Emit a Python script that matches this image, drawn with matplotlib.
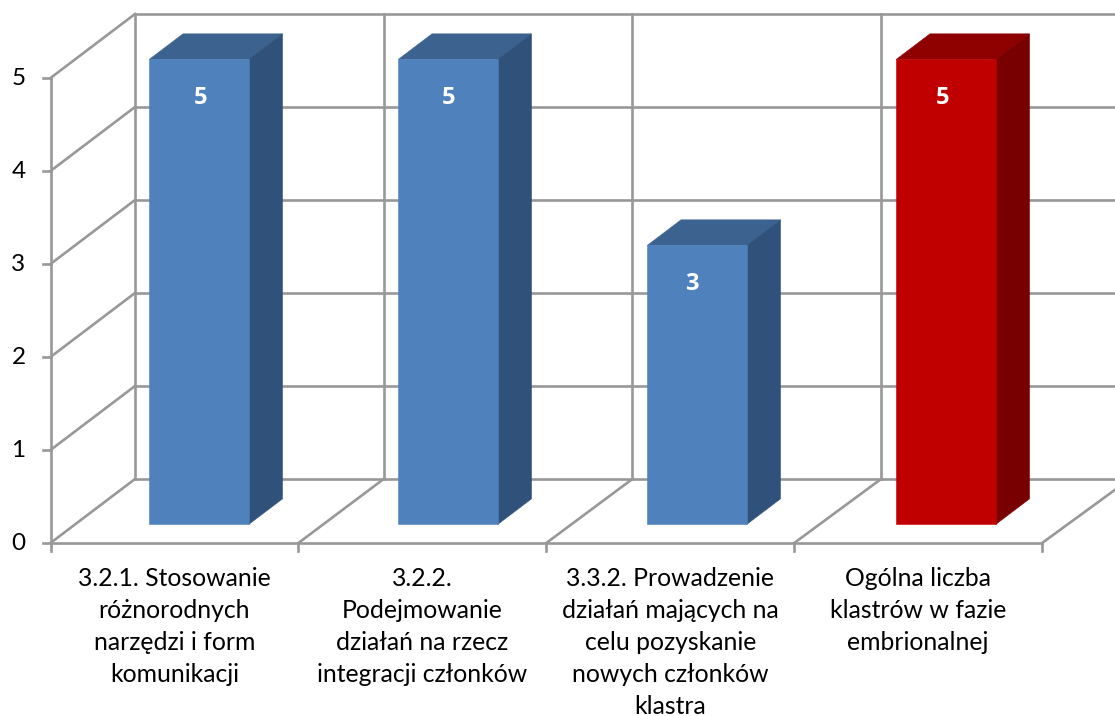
import matplotlib
matplotlib.use('Agg')
import matplotlib.pyplot as plt

# Chart data
categories = ['3.2.1. Stosowanie\nróżnorodnych\nnarzędzi i form\nkomunikacji',
              '3.2.2.\nPodejmowanie\ndziałań na rzecz\nintegracji członków',
              '3.3.2. Prowadzenie\ndziałań mających na\ncelu pozyskanie\nnowych członków\nklastra',
              'Ogólna liczba\nklastrów w fazie\nembrionalnej']
values = [5, 5, 3, 5]
y_ticks = [0, 1, 2, 3, 4, 5]

# Face colours: front, top, side
blue_faces = ('#4F81BD', '#3C6390', '#30527A')
red_faces = ('#C00000', '#8F0000', '#790000')
bar_faces = [blue_faces, blue_faces, blue_faces, red_faces]

GRID = '#989898'
LW = 1.9
FONT = 'Lato'
W, H = 1115, 716

# Scale of the front plane in pixels
X0, CAT_W = 50.5, 247.9
Y0, UNIT = 543.0, 93.0
DEPTH_X = 84.5 / CAT_W   # how far the back wall sits from the front, in data units
DEPTH_Y = 64.0 / UNIT
BACK_STEP = 248.7 / CAT_W  # the back wall is spaced a touch wider than the front

BAR_W = 99.5 / CAT_W
BAR_STEP = 249.0 / CAT_W
BAR_FRONT = 0.29         # bar position along the depth, 0 = front and 1 = back
BAR_BACK = 0.69
LABEL_NUDGE = [2, 1, -5, -3]  # excel does not centre the labels exactly, pixels


def pt(x, y, d=0.0):
    # Oblique projection of a point at depth d
    return x + d * DEPTH_X, y + d * DEPTH_Y


def back(x, y):
    return pt(x * BACK_STEP, y, 1)


def face(points, color, z):
    xs, ys = zip(*points)
    ax.fill(xs, ys, color=color, lw=0.4, zorder=z)


def wire(p, q, z=1):
    ax.plot([p[0], q[0]], [p[1], q[1]], color=GRID, lw=LW, zorder=z,
            solid_capstyle='projecting', clip_on=True)


fig = plt.figure(figsize=(W / 100, H / 100), dpi=100)
ax = fig.add_axes([0, 0, 1, 1])
ax.set_xlim(-X0 / CAT_W, (W - X0) / CAT_W)
ax.set_ylim((Y0 - H) / UNIT, Y0 / UNIT)
ax.axis('off')

n = len(categories)
top = max(y_ticks)

# Walls and floor
for v in y_ticks:
    wire(pt(0, v), back(0, v))
    wire(back(0, v), back(n, v))
    wire(pt(-8 / CAT_W, v), pt(0, v))
    ax.text(-32 / CAT_W, v, str(v), fontsize=17.5, family=FONT, color='black',
            ha='center', va='center')
wire(pt(0, 0), pt(0, top))
for i in range(n + 1):
    if i > 0:
        wire(pt(i, 0), back(i, 0))
    wire(back(i, 0), back(i, top))
    wire(pt(i, 0), pt(i, -8 / UNIT))
wire(pt(0, 0), pt(n, 0))

# Bars
for i, (v, faces) in enumerate(zip(values, bar_faces)):
    mid = 0.5 + i * BAR_STEP
    left = mid - BAR_W / 2
    right = mid + BAR_W / 2
    front, top_c, side = faces
    face([pt(left, v, BAR_FRONT), pt(right, v, BAR_FRONT),
          pt(right, v, BAR_BACK), pt(left, v, BAR_BACK)], top_c, 3)
    face([pt(right, 0, BAR_FRONT), pt(right, 0, BAR_BACK),
          pt(right, v, BAR_BACK), pt(right, v, BAR_FRONT)], side, 3)
    face([pt(left, 0, BAR_FRONT), pt(right, 0, BAR_FRONT),
          pt(right, v, BAR_FRONT), pt(left, v, BAR_FRONT)], front, 4)
    lx, ly = pt(mid + LABEL_NUDGE[i] / CAT_W, v - 39 / UNIT, BAR_FRONT)
    ax.text(lx, ly, str(v), fontsize=17, family='Open Sans', weight='bold',
            color='white', ha='center', va='center', zorder=5)

# Category labels
for i, label in enumerate(categories):
    ax.text(i + 0.5, -(566.5 - Y0) / UNIT, label, fontsize=17.8, family=FONT,
            color='black', ha='center', va='top', linespacing=1.48)

fig.savefig('out.png', dpi=100, facecolor='white')
